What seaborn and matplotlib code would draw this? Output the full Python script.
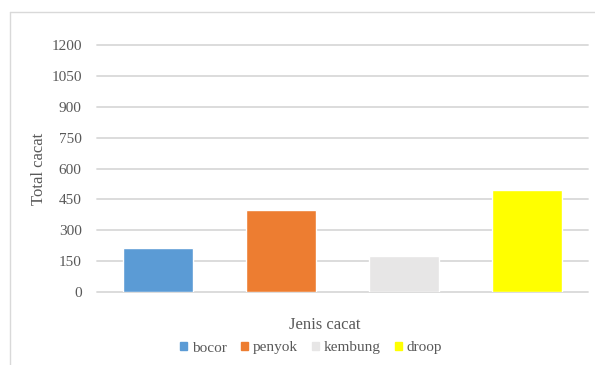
import seaborn as sns
import pandas as pd
import matplotlib.pyplot as plt
from matplotlib.lines import Line2D

# data
jenis = ['bocor', 'penyok', 'kembung', 'droop']
total = [212, 397, 175, 495]
warna = ['#5B9BD5', '#ED7D31', '#E7E6E6', '#FFFF00']
yticks = [0, 150, 300, 450, 600, 750, 900, 1050, 1200]

df = pd.DataFrame({'Jenis cacat': jenis, 'Total cacat': total})

sns.set_style('white')
plt.rcParams['font.family'] = ['Liberation Serif', 'DejaVu Serif']

fig = plt.figure(figsize=(5.95, 3.65), dpi=100)
ax = fig.add_axes([97 / 595, 1 - 292 / 365, 491 / 595, 247 / 365])

sns.barplot(data=df, x='Jenis cacat', y='Total cacat', hue='Jenis cacat',
            palette=warna, saturation=1, width=0.57, legend=False, ax=ax, zorder=3)

ax.set_ylim(0, 1200)
ax.set_xlim(-0.5, 3.5)
ax.set_yticks(yticks)
ax.set_yticklabels([str(t) for t in yticks])
ax.set_xticks([])
ax.tick_params(axis='y', length=0, pad=11, labelsize=11, labelcolor='#595959')
for t in yticks:
    ax.axhline(t, color='#D9D9D9', lw=1.3, zorder=1, clip_on=False)
for s in ax.spines.values():
    s.set_visible(False)

ax.set_xlabel('')
ax.set_ylabel('Total cacat', fontsize=12, color='#595959', labelpad=3)
fig.text(325 / 595, 1 - 325 / 365, 'Jenis cacat', fontsize=12, color='#595959',
         ha='center', va='center')

handles = [plt.Rectangle((0, 0), 1, 1, color=c) for c in warna]
fig.legend(handles, jenis, loc='center', bbox_to_anchor=(311 / 595, 1 - 348 / 365),
           ncol=4, frameon=False, fontsize=11, handlelength=0.5, handleheight=0.5,
           handletextpad=0.3, columnspacing=0.9, labelcolor='#595959')

# chart frame
fig.add_artist(Line2D([10 / 595, 10 / 595], [0, 1 - 12 / 365], color='#D9D9D9', lw=1,
                      transform=fig.transFigure))
fig.add_artist(Line2D([10 / 595, 1], [1 - 12 / 365, 1 - 12 / 365], color='#D9D9D9', lw=1,
                      transform=fig.transFigure))

fig.savefig('out.png', dpi=100)
